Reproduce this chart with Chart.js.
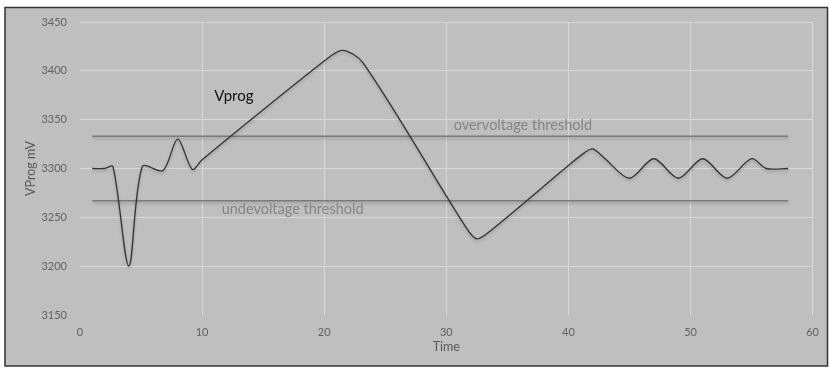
<!DOCTYPE html>
<html>
<head>
<meta charset="utf-8">
<title>VProg</title>
<script src="https://cdn.jsdelivr.net/npm/chart.js"></script>
<style>
  html, body { margin: 0; padding: 0; background: #fff; }
  #wrap { width: 830px; height: 374px; }
</style>
</head>
<body>
<div id="wrap"><canvas id="vprogChart" width="830" height="374"></canvas></div>
<script>
// --- data ---
const times  = [1, 2, 2.7, 4, 5.1, 6.8, 8, 9.2, 10, 20, 21.5, 23.2, 31.6, 32.5, 33.6, 40, 41.3, 42, 43, 45, 47, 49, 51, 53, 55, 56.2, 58];
const vprog  = [3300, 3300, 3302, 3200, 3302, 3298, 3330, 3299, 3309, 3410, 3421, 3408, 3240, 3228, 3236, 3303, 3316, 3320, 3310, 3290, 3310, 3290, 3310, 3290, 3310, 3300, 3300];

const thresholdTimes = [1, 58];
const overVoltage  = [3333, 3333];
const underVoltage = [3267, 3267];

const xTicks = [0, 10, 20, 30, 40, 50, 60];
const yTicks = [3150, 3200, 3250, 3300, 3350, 3400, 3450];

// text notes placed in data units
const noteTexts = ['Vprog', 'overvoltage threshold', 'undevoltage threshold'];
const noteX = [11.0, 30.6, 11.6];
const noteY = [3374, 3344, 3258];

const toPoints = (xs, ys) => xs.map((x, i) => ({ x: x, y: ys[i] }));

// grey panel with dark frame, like the Excel chart area
const framePlugin = {
    id: 'frame',
    beforeDraw(chart) {
        const c = chart.ctx;
        c.save();
        c.fillStyle = '#bfbfbf';
        c.fillRect(5, 7.5, 822.5, 358.5);
        c.strokeStyle = '#333333';
        c.lineWidth = 1.5;
        c.strokeRect(5, 7.5, 822.5, 358.5);
        c.restore();
    }
};

// soft drop shadow under the lines
const shadowPlugin = {
    id: 'shadow',
    beforeDatasetsDraw(chart) {
        const c = chart.ctx;
        c.save();
        c.shadowColor = 'rgba(0,0,0,0.22)';
        c.shadowBlur = 3;
        c.shadowOffsetY = 2;
    },
    afterDatasetsDraw(chart) {
        chart.ctx.restore();
    }
};

const notesPlugin = {
    id: 'notes',
    afterDatasetsDraw(chart) {
        const c = chart.ctx;
        const xs = chart.scales.x, ys = chart.scales.y;
        c.save();
        c.textBaseline = 'middle';
        c.textAlign = 'left';
        noteTexts.forEach((t, i) => {
            if (i === 0) {
                c.font = '15px Lato';
                c.fillStyle = '#111111';
            } else {
                c.font = '14.5px Lato';
                c.fillStyle = '#858585';
            }
            c.fillText(t, xs.getPixelForValue(noteX[i]), ys.getPixelForValue(noteY[i]));
        });
        c.restore();
    }
};

const ctx = document.getElementById('vprogChart').getContext('2d');
new Chart(ctx, {
    type: 'line',
    data: {
        datasets: [{
            label: 'Vprog',
            data: toPoints(times, vprog),
            borderColor: '#333333',
            borderWidth: 1.3,
            pointRadius: 0,
            tension: 0.3,
            fill: false
        }, {
            label: 'overvoltage threshold',
            data: toPoints(thresholdTimes, overVoltage),
            borderColor: '#7a7a7a',
            borderWidth: 1.3,
            pointRadius: 0,
            tension: 0,
            fill: false
        }, {
            label: 'undevoltage threshold',
            data: toPoints(thresholdTimes, underVoltage),
            borderColor: '#7a7a7a',
            borderWidth: 1.3,
            pointRadius: 0,
            tension: 0,
            fill: false
        }]
    },
    options: {
        responsive: false,
        animation: false,
        events: [],
        layout: { padding: { left: 5, right: 15, top: 22, bottom: 8 } },
        plugins: {
            legend: { display: false },
            tooltip: { enabled: false }
        },
        scales: {
            x: {
                type: 'linear',
                min: 0,
                max: 60,
                afterBuildTicks: s => { s.ticks = xTicks.map(v => ({ value: v })); },
                afterFit: s => { s.height = 51; },
                grid: {
                    drawTicks: false,
                    color: c => (c.tick && c.tick.value === 0) ? 'rgba(0,0,0,0)' : '#d9d9d9',
                    lineWidth: 1
                },
                border: { display: false },
                ticks: {
                    padding: 11,
                    color: '#626262',
                    font: { family: 'Lato', size: 11 },
                    maxRotation: 0,
                    callback: v => String(v)
                },
                title: {
                    display: true,
                    text: 'Time',
                    color: '#595959',
                    font: { family: 'Lato', size: 12.5 },
                    padding: { top: 0, bottom: 12 }
                }
            },
            y: {
                min: 3150,
                max: 3450,
                afterBuildTicks: s => { s.ticks = yTicks.map(v => ({ value: v })); },
                afterFit: s => { s.width = 75; },
                grid: {
                    drawTicks: false,
                    color: c => (c.tick && c.tick.value === 3150) ? 'rgba(0,0,0,0)' : '#d9d9d9',
                    lineWidth: 1
                },
                border: { display: false },
                ticks: {
                    padding: 13,
                    color: '#626262',
                    font: { family: 'Lato', size: 11 },
                    callback: v => String(v)
                },
                title: {
                    display: true,
                    text: 'VProg mV',
                    color: '#595959',
                    font: { family: 'Lato', size: 12.5 },
                    padding: { top: 18, bottom: 0 }
                }
            }
        }
    },
    plugins: [framePlugin, shadowPlugin, notesPlugin]
});
</script>
</body>
</html>
